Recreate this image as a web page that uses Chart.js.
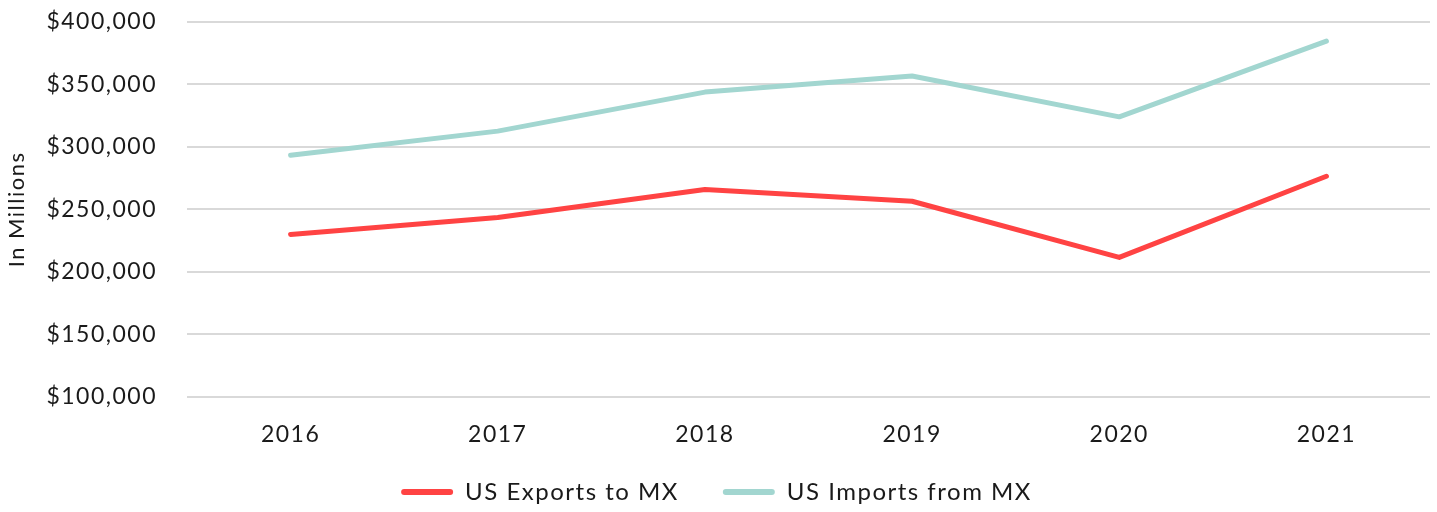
<!DOCTYPE html>
<html>
<head>
<meta charset="utf-8">
<script src="https://cdn.jsdelivr.net/npm/chart.js@4/dist/chart.umd.min.js"></script>
<style>
    html, body { margin: 0; padding: 0; background: #fff; }
    #wrap { width: 1437px; height: 512px; }
</style>
</head>
<body>
<div id="wrap"><canvas id="tradeChart"></canvas></div>
<script>
const years = ["2016", "2017", "2018", "2019", "2020", "2021"];
const exportsToMx = [230000, 243500, 265900, 256500, 211600, 276500];
const importsFromMx = [293300, 312600, 343800, 356700, 324000, 384500];
const yTicks = [100000, 150000, 200000, 250000, 300000, 350000, 400000];

const FONT = "Lato, 'Open Sans', sans-serif";
const TEXT = "#1a1a1a";
const SPACING = "1.5px";
const LEGEND_LIFT = 14;

// canvas letter spacing, applied before measuring and before drawing
const spacingPlugin = {
    id: "spacing",
    beforeUpdate: (chart) => { chart.ctx.letterSpacing = SPACING; },
    beforeDraw: (chart) => { chart.ctx.letterSpacing = SPACING; },
};

// legend padding also spaces the two items apart, so grow the box upwards a bit
const legendLift = {
    id: "legendLift",
    afterLayout: (chart) => {
        const legend = chart.legend;
        if (!legend) return;
        legend.top -= LEGEND_LIFT;
        legend.height += LEGEND_LIFT;
    },
};

new Chart(document.getElementById("tradeChart"), {
    type: "line",
    data: {
        labels: years,
        datasets: [
            {
                label: "US Exports to MX",
                data: exportsToMx,
                borderColor: "#FF4343",
                backgroundColor: "#FF4343",
                borderWidth: 5,
            },
            {
                label: "US Imports from MX",
                data: importsFromMx,
                borderColor: "#A2D6D0",
                backgroundColor: "#A2D6D0",
                borderWidth: 5,
            },
        ],
    },
    options: {
        responsive: true,
        maintainAspectRatio: false,
        animation: false,
        devicePixelRatio: 1,
        elements: {
            point: { radius: 0, hoverRadius: 0 },
            line: { tension: 0, borderCapStyle: "round", borderJoinStyle: "round" },
        },
        layout: { padding: { top: 0, right: 7, left: 3, bottom: 0 } },
        plugins: {
            legend: {
                position: "bottom",
                maxHeight: 62,
                labels: {
                    color: TEXT,
                    font: { family: FONT, size: 24 },
                    boxWidth: 52,
                    boxHeight: 6,
                    useBorderRadius: true,
                    borderRadius: 3,
                    padding: 44,
                    generateLabels: (chart) => Chart.defaults.plugins.legend.labels.generateLabels(chart)
                        .map((item) => ({ ...item, lineWidth: 0 })),
                },
            },
            tooltip: { enabled: false },
        },
        scales: {
            x: {
                offset: true,
                afterFit: (scale) => { scale.height = 53; },
                grid: { display: false, drawTicks: false },
                border: { display: false },
                ticks: { color: TEXT, font: { family: FONT, size: 23 }, padding: 24 },
            },
            y: {
                min: yTicks[0],
                max: yTicks[yTicks.length - 1],
                afterBuildTicks: (scale) => { scale.ticks = yTicks.map((value) => ({ value })); },
                afterFit: (scale) => { scale.width = 184; },
                grid: { color: "#D9D9D9", lineWidth: 2, drawTicks: true, tickLength: 22, tickColor: "rgba(0,0,0,0)" },
                border: { display: false },
                ticks: {
                    color: TEXT,
                    font: { family: FONT, size: 23 },
                    padding: 8,
                    callback: (value) => "$" + Number(value).toLocaleString("en-US"),
                },
                title: {
                    display: true,
                    text: "In Millions",
                    color: TEXT,
                    font: { family: FONT, size: 22 },
                    padding: { top: 1, bottom: 0 },
                },
            },
        },
    },
    plugins: [spacingPlugin, legendLift],
});
</script>
</body>
</html>
